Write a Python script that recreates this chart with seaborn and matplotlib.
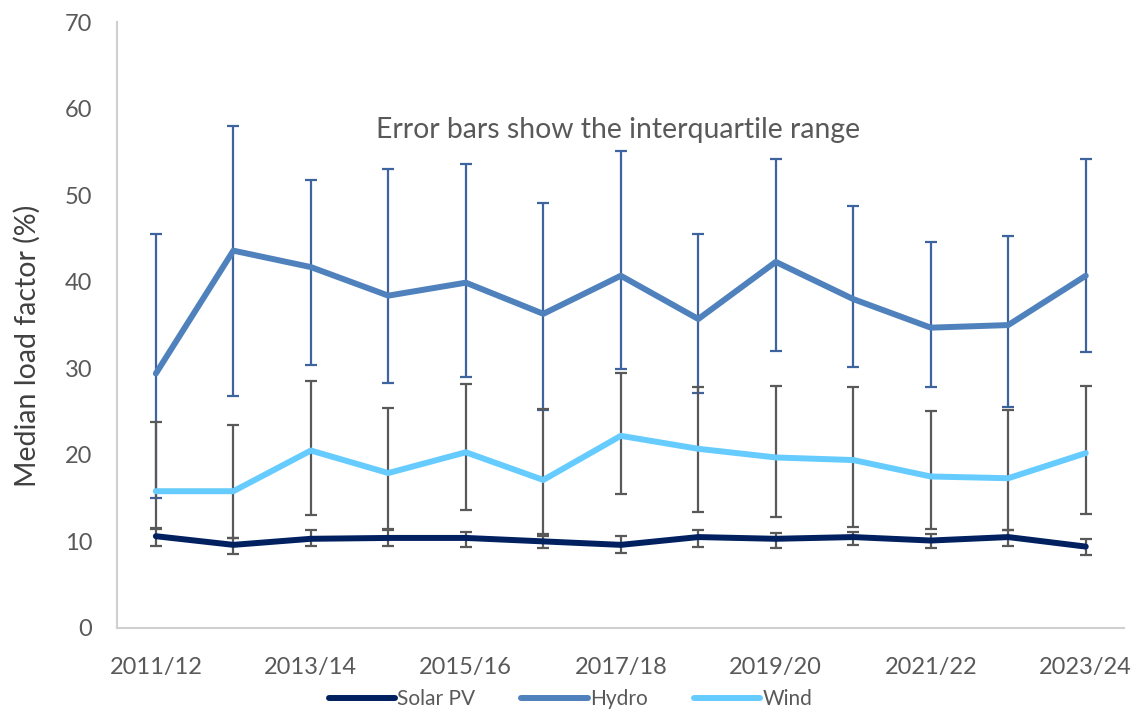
import numpy as np
import pandas as pd
import matplotlib
matplotlib.use("Agg")
import matplotlib.pyplot as plt
import seaborn as sns

# ------------------------------------------------------------------ #
years = ["2011/12", "2012/13", "2013/14", "2014/15", "2015/16", "2016/17",
         "2017/18", "2018/19", "2019/20", "2020/21", "2021/22", "2022/23",
         "2023/24"]

solar_med = [10.6, 9.6, 10.3, 10.4, 10.4, 10.0, 9.6, 10.5, 10.3, 10.5, 10.1, 10.5, 9.4]
solar_q1  = [9.5, 8.5, 9.5, 9.5, 9.3, 9.2, 8.7, 9.4, 9.2, 9.6, 9.2, 9.5, 8.4]
solar_q3  = [11.4, 10.4, 11.3, 11.3, 11.1, 10.9, 10.6, 11.3, 11.0, 11.1, 10.9, 11.3, 10.3]

hydro_med = [29.4, 43.6, 41.7, 38.4, 39.9, 36.3, 40.7, 35.7, 42.3, 38.0, 34.7, 35.0, 40.7]
hydro_q1  = [15.0, 26.8, 30.4, 28.3, 29.0, 25.2, 29.9, 27.1, 32.0, 30.1, 27.9, 25.5, 31.9]
hydro_q3  = [45.5, 58.0, 51.8, 53.0, 53.6, 49.1, 55.1, 45.5, 54.2, 48.8, 44.6, 45.3, 54.2]

wind_med = [15.8, 15.8, 20.5, 17.9, 20.3, 17.1, 22.2, 20.7, 19.7, 19.4, 17.5, 17.3, 20.2]
wind_q1  = [11.6, 10.4, 13.0, 11.4, 13.6, 10.6, 15.5, 13.4, 12.8, 11.7, 11.4, 11.3, 13.2]
wind_q3  = [23.8, 23.4, 28.5, 25.4, 28.2, 25.3, 29.5, 27.8, 28.0, 27.9, 25.1, 25.2, 28.0]

series = ["Solar PV", "Hydro", "Wind"]
colors = {"Solar PV": "#002060", "Hydro": "#4f81bd", "Wind": "#66ccff"}
err_colors = {"Solar PV": "#595959", "Hydro": "#3e64a0", "Wind": "#595959"}
# ------------------------------------------------------------------ #

sns.set_style("white")
plt.rcParams["font.family"] = ["Lato", "DejaVu Sans"]

x = np.arange(len(years))
df = pd.concat([
    pd.DataFrame({"x": x, "value": solar_med, "q1": solar_q1, "q3": solar_q3, "source": "Solar PV"}),
    pd.DataFrame({"x": x, "value": hydro_med, "q1": hydro_q1, "q3": hydro_q3, "source": "Hydro"}),
    pd.DataFrame({"x": x, "value": wind_med, "q1": wind_q1, "q3": wind_q3, "source": "Wind"}),
], ignore_index=True)

fig = plt.figure(figsize=(11.37, 7.16), dpi=100)
ax = fig.add_axes([0.103, 0.123, 0.886, 0.846])

# error bars (interquartile range)
for s in series:
    d = df[df["source"] == s]
    ax.errorbar(d["x"], d["value"],
                yerr=[d["value"] - d["q1"], d["q3"] - d["value"]],
                fmt="none", ecolor=err_colors[s], elinewidth=1.6,
                capsize=4.5, capthick=1.6, zorder=2)

sns.lineplot(data=df, x="x", y="value", hue="source", hue_order=series,
             palette=colors, linewidth=4.3, ax=ax, zorder=3,
             solid_capstyle="round")

ax.set_xlim(-0.5, len(years) - 0.5)
ax.set_ylim(0, 70)
ax.set_yticks(range(0, 71, 10))
ax.set_xticks(x[::2])
ax.set_xticklabels(years[::2])
ax.tick_params(axis="both", length=0, labelsize=17, colors="#595959")
ax.tick_params(axis="y", pad=18)
ax.tick_params(axis="x", pad=21)

ax.set_xlabel("")
ax.set_ylabel("Median load factor (%)", fontsize=20.5, color="#404040")
ax.yaxis.set_label_coords(-0.076, 0.465)

for side in ["top", "right"]:
    ax.spines[side].set_visible(False)
for side in ["left", "bottom"]:
    ax.spines[side].set_color("#d0d0d0")
    ax.spines[side].set_linewidth(1.5)

ax.text(0.4975, 0.822, "Error bars show the interquartile range",
        transform=ax.transAxes, ha="center", va="center",
        fontsize=20.4, color="#595959")

leg = ax.legend(loc="upper center", bbox_to_anchor=(0.45, -0.080), ncol=3,
                frameon=False, fontsize=15, handlelength=3.2,
                handletextpad=0.1, columnspacing=2.2, borderaxespad=0.2)
for line in leg.get_lines():
    line.set_linewidth(4.3)
for t in leg.get_texts():
    t.set_color("#595959")

fig.savefig("out.png", dpi=100)
